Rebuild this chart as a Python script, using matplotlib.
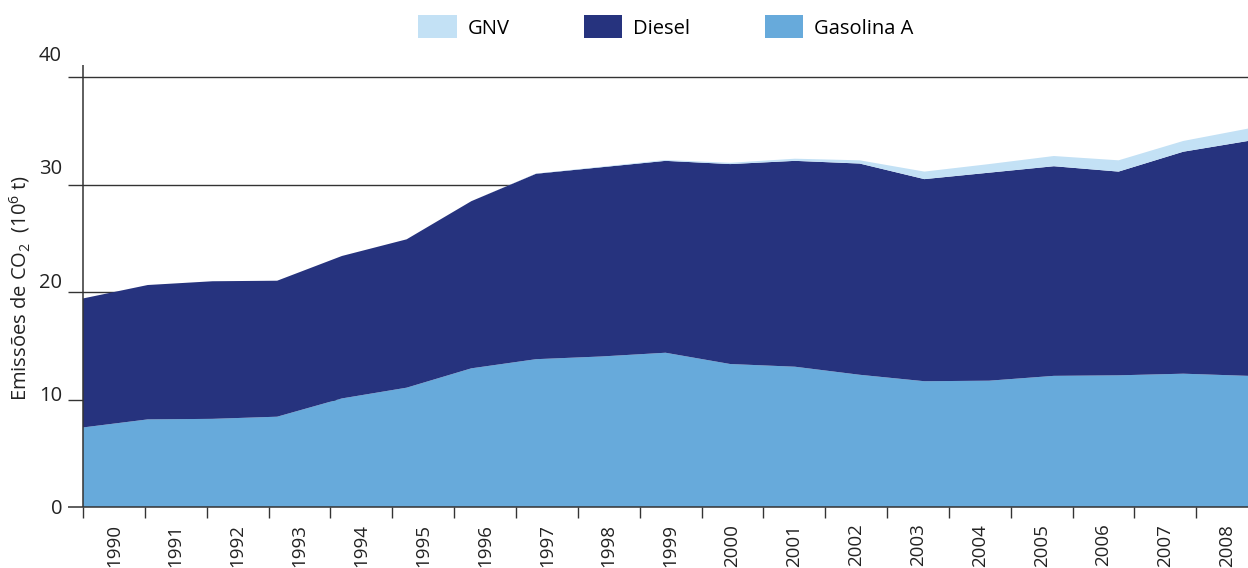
import matplotlib
matplotlib.use("Agg")
import matplotlib.pyplot as plt
import matplotlib.transforms as mtransforms
from matplotlib.patches import Patch
import numpy as np

plt.rcParams["font.family"] = ["Open Sans", "DejaVu Sans"]
plt.rcParams["mathtext.default"] = "regular"

# Emissões de CO2 por combustível (10^6 t)
years = [str(y) for y in range(1990, 2009)]
gasolina_a = [7.4, 8.15, 8.2, 8.4, 10.1, 11.1, 12.9, 13.75, 14.0, 14.35,
              13.3, 13.05, 12.3, 11.7, 11.75, 12.2, 12.25, 12.4, 12.2]
diesel = [12.0, 12.5, 12.8, 12.65, 13.25, 13.8, 15.55, 17.25, 17.6, 17.85,
          18.6, 19.15, 19.65, 18.8, 19.35, 19.5, 18.95, 20.65, 21.85]
gnv = [0, 0, 0, 0, 0, 0, 0, 0.02, 0.05, 0.08,
       0.12, 0.2, 0.3, 0.7, 0.8, 0.95, 1.05, 1.0, 1.15]
y_ticks = [0, 10, 20, 30, 40]

c_gnv = "#C3E1F5"
c_diesel = "#26337E"
c_gas = "#67AADB"
c_line = "#333333"

W, H = 1248, 568
fig = plt.figure(figsize=(W / 100, H / 100), dpi=100)

x_left = -0.232          # axis stub to the left of the first year
y_top = 41.2
ax = fig.add_axes([68 / W, 1 - 507 / H, (W - 68) / W, (507 - 64.1) / H])
ax.set_xlim(x_left, len(years) - 1)
ax.set_ylim(0, y_top)
for s in ax.spines.values():
    s.set_visible(False)

x = np.arange(len(years))
ax.stackplot(x, gasolina_a, diesel, gnv, colors=[c_gas, c_diesel, c_gnv],
             linewidth=0, zorder=2)

# horizontal reference lines (hidden behind the areas)
for v in y_ticks[1:]:
    ax.plot([x_left, len(years) - 1], [v, v], color=c_line, lw=1.0, zorder=1,
            solid_capstyle="butt")
ax.plot([x_left, len(years) - 1], [0, 0], color=c_line, lw=1.1, zorder=3,
        solid_capstyle="butt", clip_on=False)
ax.plot([0, 0], [0, 41.1], color=c_line, lw=1.1, zorder=3,
        solid_capstyle="butt", clip_on=False)

# y tick labels
lab_tr = mtransforms.offset_copy(ax.transData, fig=fig, x=-6, y=0, units="dots")
for v in y_ticks:
    ax.text(x_left, v * 1.055, str(v), transform=lab_tr, ha="right",
            va="center_baseline", fontsize=14.5, color="#222222")
ax.set_yticks([])

# year separators and labels
step = 61.85 / 64.72
sep = np.arange(len(years)) * step
ax.set_xticks(sep, [""] * len(years))
ax.tick_params(axis="x", which="major", direction="out", length=8,
               width=1.0, color=c_line)
ax.set_xticks(sep + step / 2, years, minor=True)
ax.tick_params(axis="x", which="minor", length=0, pad=12, labelsize=13.5,
               labelcolor="#222222", labelrotation=90)

fig.text(20 / W, 1 - 288 / H, r"Emissões de CO$_2$  (10$^6$ t)", rotation=90,
         ha="center", va="center", fontsize=14.5, color="#222222")

handles = [Patch(facecolor=c_gnv, label="GNV"),
           Patch(facecolor=c_diesel, label="Diesel"),
           Patch(facecolor=c_gas, label="Gasolina A")]
fig.legend(handles=handles, loc="center", bbox_to_anchor=(666 / W, 1 - 27 / H),
           ncol=3, frameon=False, fontsize=14.5, handlelength=1.9,
           handleheight=1.35, handletextpad=0.55, columnspacing=3.7,
           borderpad=0)

fig.savefig("out.png", dpi=100)
